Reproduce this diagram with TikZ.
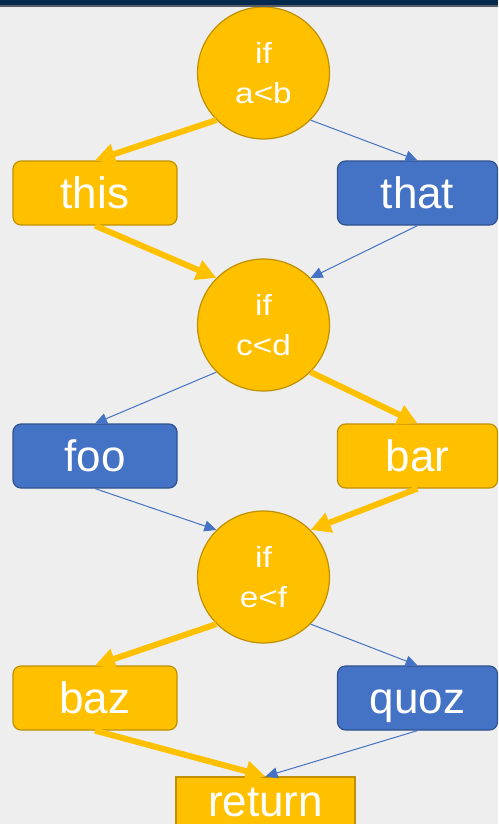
\documentclass[tikz,border=0pt]{standalone}
\usepackage{fontspec}
\setmainfont{Liberation Sans}
\usetikzlibrary{arrows.meta}
\definecolor{bg}{HTML}{EEEEEE}
\definecolor{gold}{HTML}{FFC000}
\definecolor{goldline}{HTML}{BF9000}
\definecolor{steel}{HTML}{4472C4}
\definecolor{steelline}{HTML}{2F528F}
\definecolor{navy}{HTML}{062A4E}
\definecolor{bandline}{HTML}{5A5F66}
\newcommand{\wide}[1]{\scalebox{1.15}[1]{#1}}
\begin{document}
\begin{tikzpicture}[x=1pt,y=-1pt,
  cond/.style={circle,fill=gold,draw=goldline,line width=1.2pt,minimum size=132pt,inner sep=0pt,
    text=white,align=center,font=\fontsize{29}{40}\selectfont},
  ybox/.style={rectangle,rounded corners=8pt,fill=gold,draw=goldline,line width=1.2pt,
    minimum width=164pt,minimum height=64pt,inner sep=0pt,text=white,
    font=\fontsize{44}{50}\selectfont,text height=31.5pt,text depth=0pt},
  bbox/.style={ybox,fill=steel,draw=steelline,minimum width=160pt},
  rbox/.style={rectangle,fill=gold,draw=goldline,line width=1.2pt,
    minimum width=179pt,minimum height=64pt,inner sep=0pt,text=white,
    font=\fontsize{44}{50}\selectfont,text height=31.5pt,text depth=17.5pt},
  yarrow/.style={draw=gold,line width=6pt,-{Triangle[length=20pt,width=20pt]}},
  barrow/.style={draw=steel,line width=1pt,-{Triangle[length=12pt,width=11pt]}}
]
\useasboundingbox (0,0) rectangle (498,824);
\fill[bg] (0,0) rectangle (498,824);

% nodes
\node[cond] (c1) at (263.5,73) {\wide{if}\\\wide{a<b}};
\node[ybox] (this) at (95,193) {this};
\node[bbox] (that) at (417.5,193) {that};
\node[cond] (c2) at (263.5,325) {\wide{if}\\\wide{c<d}};
\node[bbox,minimum width=164pt] (foo) at (95,456) {foo};
\node[ybox,minimum width=160pt] (bar) at (417.5,456) {bar};
\node[cond] (c3) at (263.5,577) {\wide{if}\\\wide{e<f}};
\node[ybox] (baz) at (95,698) {baz};
\node[bbox] (quoz) at (417.5,698) {quoz};
\node[rbox] (ret) at (265.5,809) {return};

% connectors
\draw[yarrow] (c1.south west) -- (this.north);
\draw[barrow] (c1.south east) -- (that.north);
\draw[yarrow] (this.south) -- (c2.north west);
\draw[barrow] (that.south) -- (c2.north east);
\draw[barrow] (c2.south west) -- (foo.north);
\draw[yarrow] (c2.south east) -- (bar.north);
\draw[barrow] (foo.south) -- (c3.north west);
\draw[yarrow] (bar.south) -- (c3.north east);
\draw[yarrow] (c3.south west) -- (baz.north);
\draw[barrow] (c3.south east) -- (quoz.north);
\draw[yarrow] (baz.south) -- (ret.north);
\draw[barrow] (quoz.south) -- (ret.north);

% top band
\fill[navy] (0,0) rectangle (498,5);
\fill[bandline] (0,5) rectangle (498,7);
\end{tikzpicture}
\end{document}
